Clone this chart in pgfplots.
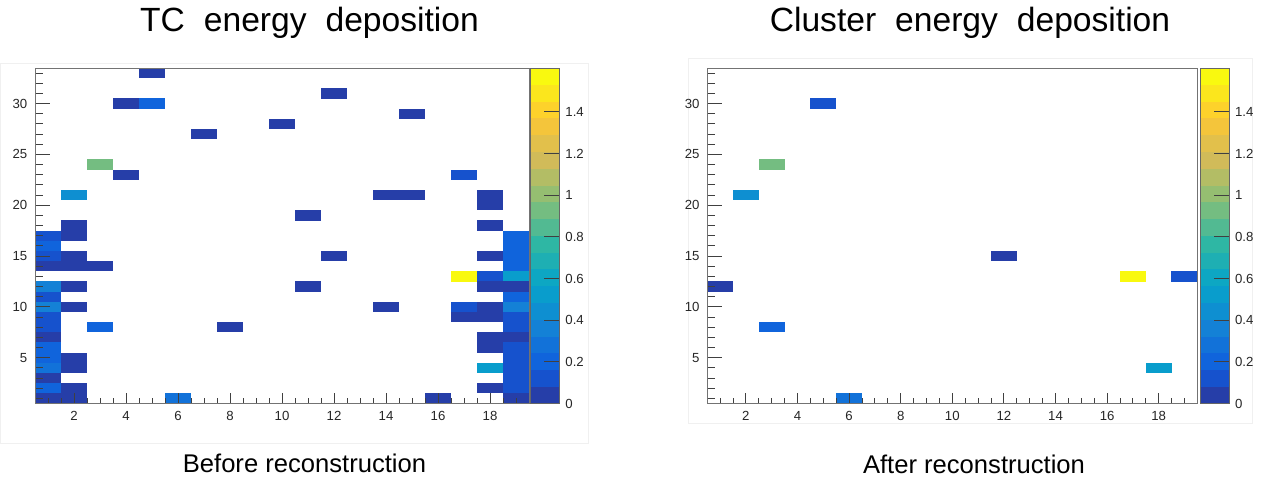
\documentclass[border=0pt]{standalone}
\usepackage{pgfplots}
\pgfplotsset{compat=1.18}
\usepackage{pgfplotstable}
\usepackage{fontspec}
\setmainfont{Liberation Sans}

% ROOT "bird" palette, one colour per contour band (20 bands)
\pgfplotsset{
  colormap={rootbird}{
    rgb255=(38,62,168)  rgb255=(22,82,205)  rgb255=(16,100,220) rgb255=(18,114,217)
    rgb255=(20,129,214) rgb255=(14,143,209) rgb255=(9,157,204)  rgb255=(13,167,195)
    rgb255=(30,175,179) rgb255=(46,183,164) rgb255=(82,186,146) rgb255=(116,189,129)
    rgb255=(149,190,113) rgb255=(179,189,101) rgb255=(209,187,89) rgb255=(226,192,75)
    rgb255=(244,197,59) rgb255=(253,210,43) rgb255=(251,230,29) rgb255=(249,249,15)
  },
}

% one histogram bin: 1 x 1 in data units
\pgfdeclareplotmark{cell}{% x = 13pt, y = 5.0833pt
  \pgfpathrectangle{\pgfpoint{-6.6pt}{-2.62pt}}{\pgfpoint{13.2pt}{5.24pt}}%
  \pgfusepathqfill}
\pgfdeclareplotmark{cellR}{% x = 12.9pt, y = 5.0833pt
  \pgfpathrectangle{\pgfpoint{-6.55pt}{-2.62pt}}{\pgfpoint{13.1pt}{5.24pt}}%
  \pgfusepathqfill}
% one band of the colour scale: 14.3pt x 0.0805 units
\pgfdeclareplotmark{band}{%
  \pgfpathrectangle{\pgfpoint{-7.15pt}{-4.25pt}}{\pgfpoint{14.3pt}{8.5pt}}%
  \pgfusepathqfill}

% energy per (x,y) bin, GeV
\pgfplotstableread{
x y e
5 33 0.04
4 30 0.04
5 30 0.20
12 31 0.04
15 29 0.04
10 28 0.04
7 27 0.04
3 24 0.93
4 23 0.04
17 23 0.12
2 21 0.44
14 21 0.04
15 21 0.04
18 21 0.04
18 20 0.04
11 19 0.04
2 18 0.04
18 18 0.04
1 17 0.12
2 17 0.04
19 17 0.20
1 16 0.20
19 16 0.20
1 15 0.16
2 15 0.04
12 15 0.04
18 15 0.04
19 15 0.20
1 14 0.04
2 14 0.04
3 14 0.04
19 14 0.20
17 13 1.59
18 13 0.12
19 13 0.52
1 12 0.36
2 12 0.04
11 12 0.04
18 12 0.04
19 12 0.04
1 11 0.16
19 11 0.20
1 10 0.36
2 10 0.04
14 10 0.04
17 10 0.12
18 10 0.04
19 10 0.36
1 9 0.12
17 9 0.04
18 9 0.04
19 9 0.12
1 8 0.12
3 8 0.20
8 8 0.04
19 8 0.12
1 7 0.04
18 7 0.04
19 7 0.04
1 6 0.20
18 6 0.04
19 6 0.12
1 5 0.20
2 5 0.04
19 5 0.12
1 4 0.28
2 4 0.04
18 4 0.52
19 4 0.12
1 3 0.04
19 3 0.12
1 2 0.20
2 2 0.04
18 2 0.04
19 2 0.12
1 1 0.04
2 1 0.04
6 1 0.28
16 1 0.04
19 1 0.04
}\tcdata

\pgfplotstableread{
x y e
5 30 0.13
3 24 0.93
2 21 0.44
1 12 0.04
3 8 0.20
6 1 0.28
12 15 0.04
17 13 1.59
19 13 0.13
18 4 0.52
}\clusterdata

% colour scale bands: centre and band index
\pgfplotstableread{
x y i
0.5 0.04025 0
0.5 0.12075 1
0.5 0.20125 2
0.5 0.28175 3
0.5 0.36225 4
0.5 0.44275 5
0.5 0.52325 6
0.5 0.60375 7
0.5 0.68425 8
0.5 0.76475 9
0.5 0.84525 10
0.5 0.92575 11
0.5 1.00625 12
0.5 1.08675 13
0.5 1.16725 14
0.5 1.24775 15
0.5 1.32825 16
0.5 1.40875 17
0.5 1.48925 18
0.5 1.56975 19
}\scaledata

\pgfplotsset{
  rootfont/.style={font=\fontsize{6.6}{7.5}\selectfont, text=black!85},
  histo/.style={
    scale only axis, y=5.08333pt,
    xmin=0.5, xmax=19.5, ymin=0.5, ymax=33.5,
    axis on top, clip marker paths=true,
    colormap name=rootbird, point meta min=0, point meta max=19,
    xtick={2,4,...,18}, minor xtick={1,1.5,...,19},
    ytick={5,10,...,30}, minor ytick={1,...,33},
    tick pos=left, tick align=inside,
    major x tick style={/pgfplots/major tick length=5.3pt},
    minor x tick style={/pgfplots/minor tick length=2.6pt},
    major y tick style={/pgfplots/major tick length=7.5pt},
    minor y tick style={/pgfplots/minor tick length=3.8pt},
    every tick/.style={black!75, line width=0.5pt},
    axis line style={black!55, line width=0.5pt},
    tick label style={rootfont},
    /pgf/number format/assume math mode=true,
    xticklabel style={yshift=-0.5pt},
    yticklabel style={xshift=-0.3pt},
  },
  cells/.style={
    scatter, only marks, mark=#1,
    scatter/use mapped color={draw=mapped color, fill=mapped color},
    point meta={min(19,floor(\thisrow{e}/0.0805))},
  },
  cbar/.style={
    scale only axis, x=14.3pt, y=104.1925pt,
    xmin=0, xmax=1, ymin=0, ymax=1.61,
    axis on top, clip marker paths=true,
    colormap name=rootbird, point meta min=0, point meta max=19,
    xtick=\empty, ytick={0,0.2,0.4,0.6,0.8,1,1.2,1.4},
    ytick pos=right, yticklabel pos=right, tick align=inside,
    major tick length=7.5pt,
    every tick/.style={black!75, line width=0.5pt},
    axis line style={black!60, line width=0.5pt},
    tick label style={rootfont},
    /pgf/number format/assume math mode=true,
    yticklabel style={xshift=-0.5pt},
  },
  bands/.style={
    scatter, only marks, mark=band,
    scatter/use mapped color={draw=mapped color, fill=mapped color},
    point meta=\thisrow{i},
  },
}

\begin{document}
\begin{tikzpicture}
\path[use as bounding box] (0,0) rectangle (631.5pt,239.5pt);

% faint canvas outlines
\draw[black!6, line width=0.5pt] (0pt,18pt) rectangle (294pt,208pt);
\draw[black!6, line width=0.5pt] (344pt,28pt) rectangle (626pt,210.5pt);

% ---- trigger cells ----
\begin{axis}[histo, x=13pt, at={(17.5pt,37.75pt)}, anchor=south west]
  \addplot[cells=cell] table[x=x, y=y] {\tcdata};
\end{axis}
\begin{axis}[cbar, at={(265.4pt,37.75pt)}, anchor=south west]
  \addplot[bands] table[x=x, y=y] {\scaledata};
\end{axis}

% ---- clusters ----
\begin{axis}[histo, x=12.9pt, at={(353.6pt,37.75pt)}, anchor=south west]
  \addplot[cells=cellR] table[x=x, y=y] {\clusterdata};
\end{axis}
\begin{axis}[cbar, at={(600.2pt,37.75pt)}, anchor=south west]
  \addplot[bands] table[x=x, y=y] {\scaledata};
\end{axis}

% titles and captions
\node[anchor=base, inner sep=0pt] at (154.75pt,223.6pt)
  {\fontsize{16.8}{19}\selectfont TC\hspace{9.5pt}energy\hspace{9.5pt}deposition};
\node[anchor=base, inner sep=0pt] at (485pt,223.6pt)
  {\fontsize{16.8}{19}\selectfont Cluster\hspace{9.5pt}energy\hspace{9.5pt}deposition};
\node[anchor=base, inner sep=0pt] at (152.25pt,3.1pt)
  {\fontsize{12.8}{15}\selectfont Before reconstruction};
\node[anchor=base, inner sep=0pt] at (487pt,2.9pt)
  {\fontsize{12.8}{15}\selectfont After reconstruction};
\end{tikzpicture}
\end{document}
